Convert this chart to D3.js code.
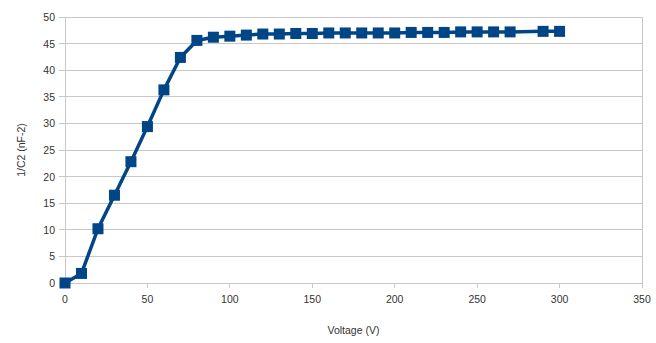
<!DOCTYPE html>
<html><head><meta charset="utf-8">
<script src="https://cdn.jsdelivr.net/npm/d3@7"></script>
<style>body{margin:0;background:#fff}svg{display:block}text{font-family:"Liberation Sans",Arial,sans-serif}</style>
</head><body>
<script>
const voltage = [0,10,20,30,40,50,60,70,80,90,100,110,120,130,140,150,160,170,180,190,200,210,220,230,240,250,260,270,290,300];
const invC2 = [0,1.8,10.2,16.5,22.8,29.4,36.3,42.4,45.6,46.2,46.4,46.6,46.8,46.8,46.9,46.9,47.0,47.0,47.0,47.0,47.0,47.1,47.1,47.1,47.2,47.2,47.2,47.2,47.3,47.3];
const xTicks = [0,50,100,150,200,250,300,350];
const yTicks = [0,5,10,15,20,25,30,35,40,45,50];
const xTitle = "Voltage (V)";
const yTitle = "1/C2 (nF-2)";

const W = 656, H = 343;
const m = {left:65, right:14, top:17, bottom:60};
const svg = d3.select("body").append("svg").attr("width",W).attr("height",H);
const x = d3.scaleLinear().domain([0,350]).range([m.left, W-m.right]);
const y = d3.scaleLinear().domain([0,50]).range([H-m.bottom, m.top]);

// horizontal gridlines
svg.append("g").selectAll("line").data(yTicks).join("line")
  .attr("x1", x(0)-6).attr("x2", x(350)).attr("y1", d=>y(d)).attr("y2", d=>y(d))
  .attr("stroke","#c8c8c8").attr("stroke-width",1).attr("shape-rendering","crispEdges");
// left axis line and right border
svg.append("line").attr("x1",x(0)).attr("x2",x(0)).attr("y1",y(50)).attr("y2",y(0)+5)
  .attr("stroke","#c8c8c8").attr("shape-rendering","crispEdges");
svg.append("line").attr("x1",x(350)).attr("x2",x(350)).attr("y1",y(50)).attr("y2",y(0)+5)
  .attr("stroke","#c8c8c8").attr("shape-rendering","crispEdges");
// x ticks
svg.append("g").selectAll("line").data(xTicks).join("line")
  .attr("x1", d=>x(d)).attr("x2", d=>x(d)).attr("y1", y(0)).attr("y2", y(0)+5)
  .attr("stroke","#c8c8c8").attr("shape-rendering","crispEdges");

// tick labels
svg.append("g").selectAll("text").data(xTicks).join("text")
  .attr("x", d=>x(d)).attr("y", y(0)+20).attr("text-anchor","middle")
  .attr("font-size",10.5).attr("fill","#333").text(d=>d);
svg.append("g").selectAll("text").data(yTicks).join("text")
  .attr("x", x(0)-10).attr("y", d=>y(d)+4).attr("text-anchor","end")
  .attr("font-size",10.5).attr("fill","#333").text(d=>d);

// titles
svg.append("text").attr("x",(x(0)+x(350))/2).attr("y",334).attr("text-anchor","middle")
  .attr("font-size",10.5).attr("fill","#333").text(xTitle);
svg.append("text").attr("transform",`translate(25,${(y(0)+y(50))/2}) rotate(-90)`)
  .attr("text-anchor","middle").attr("font-size",10.5).attr("fill","#333").text(yTitle);

const pts = voltage.map((v,i)=>[v,invC2[i]]);
svg.append("path").datum(pts)
  .attr("d", d3.line().x(d=>x(d[0])).y(d=>y(d[1])))
  .attr("fill","none").attr("stroke","#004586").attr("stroke-width",3.5).attr("stroke-linejoin","round");
const s = 11;
svg.append("g").selectAll("rect").data(pts).join("rect")
  .attr("x", d=>x(d[0])-s/2).attr("y", d=>y(d[1])-s/2).attr("width",s).attr("height",s)
  .attr("fill","#004586");
</script>
</body></html>
